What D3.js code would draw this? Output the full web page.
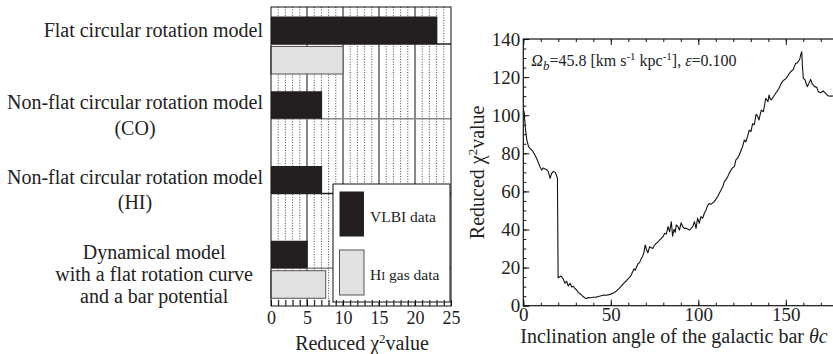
<!DOCTYPE html>
<html>
<head>
<meta charset="utf-8">
<script src="https://cdn.jsdelivr.net/npm/d3@7"></script>
<style>
  body { margin: 0; background: #fff; }
  svg { display: block; }
  svg text { font-family: "Liberation Serif", "Times New Roman", serif; }
</style>
</head>
<body>
<div id="root"></div>
<script>
// left panel: reduced chi2 per model
var models = ["flat", "nonflatCO", "nonflatHI", "dynamical"];
var modelLabels = [
  ["Flat circular rotation model"],
  ["Non-flat circular rotation model", "(CO)"],
  ["Non-flat circular rotation model", "(HI)"],
  ["Dynamical model", "with a flat rotation curve", "and a bar potential"]
];
var vlbiValues = [23.1, 7.1, 7.1, 5.1];
var hiGasValues = [10.0, null, null, 7.6];
var barTicks = [0, 5, 10, 15, 20, 25];

// right panel: chi2 vs inclination angle
var theta = [0, 0.5, 1.2, 2, 3, 4, 5.5, 7, 8, 9.5, 10.5, 11.5, 12.4, 13.3, 14.3, 15.3, 16.2, 17.1, 18.2, 18.9,
  19.5, 19.9, 20.7, 21.6, 22.7, 23.8, 24.8, 25.7, 26.7, 27.7, 28.6, 29.5, 30.4, 31.4, 32.4, 33.4, 34.4, 35.3, 36.2, 37.1,
  38.5, 40, 41.5, 43, 44.5, 46, 47.5, 49, 50.3, 51.7, 53.1, 54.5, 56, 57.5, 58.9, 60, 60.8, 61.7, 62.5, 63.3,
  64, 64.6, 65.5, 66.4, 67.4, 68.2, 68.9, 69.7, 70.4, 71.2, 72.2, 73.1, 74.1, 75, 76, 77, 77.9, 78.8, 79.8, 80.8,
  81.7, 82.7, 83.6, 84.6, 85.3, 86.1, 86.8, 87.4, 88.4, 89.2, 90.2, 91.1, 92, 93, 94, 94.9, 95.8, 96.8, 97.8, 98.7,
  99.6, 100.6, 101.5, 102.5, 103.4, 104.4, 105.3, 106.3, 107.2, 108.2, 109.1, 110, 111, 112, 113, 114, 114.9, 115.8, 116.8, 117.7,
  118.7, 119.6, 120.6, 121.5, 122.5, 123.4, 124.4, 125.3, 126.3, 127.2, 128.2, 129.1, 130.1, 131, 132, 133, 133.8, 134.7, 135.4, 136,
  137.2, 138, 138.5, 139.8, 140.4, 141.1, 141.7, 142.9, 144.2, 145.2, 146.1, 147.4, 148.2, 149, 150, 150.9, 151.9, 152.8, 154.3, 155.6,
  156.4, 157.1, 158, 158.5, 159.1, 159.5, 160, 161, 161.7, 162.3, 163.2, 164.2, 165.1, 166.5, 167.7, 168.6, 169.3, 169.9, 171.3, 172.8,
  174.1, 175.5, 177, 178];
var chi2 = [103, 101.5, 93, 87, 83.5, 82.5, 81, 78.5, 76.5, 73, 71.2, 72.3, 71.8, 71.5, 70.4, 66.8, 69.5, 70.4, 70, 68.5,
  67, 14.6, 15.2, 15.6, 14.2, 11.8, 12.8, 10.3, 11.8, 9.8, 10.2, 9, 8.4, 7.0, 6.3, 5.4, 4.7, 4.0, 3.7, 4.3,
  4.2, 4.4, 4.5, 4.8, 5.2, 5.6, 5.5, 5.8, 6.2, 6.8, 7.6, 8.8, 10.3, 11.8, 13.1, 14.2, 14.9, 16.2, 17.8, 19.4,
  18.6, 20.1, 22.0, 22.6, 24.7, 26, 27.8, 31.9, 29.5, 27.8, 31, 30.4, 30.1, 31.8, 32.8, 33.5, 34.5, 35.2, 36.2, 38,
  37.6, 41.5, 38.8, 44.1, 36.5, 40.1, 38.5, 42.4, 41.5, 39.7, 43.5, 41.5, 40.6, 40.6, 40.2, 39.7, 40.5, 41.5, 44.1, 40.6,
  45.9, 43.3, 46.7, 45.9, 48.4, 50.2, 52.5, 53.7, 53.2, 54, 54.6, 55.8, 57.2, 59, 60.7, 62.5, 65.1, 66.2, 67.7, 69.6,
  71.2, 72.4, 73, 76.5, 77.6, 79.1, 81.5, 83.5, 87, 86, 89, 92.2, 91.4, 95.5, 95, 100.5, 99.6, 97.5, 100.5, 102.7,
  101.8, 106, 108.9, 107.1, 110.6, 108.5, 108, 109.7, 111.5, 112.8, 114.1, 116.7, 117.8, 118.5, 119.2, 120.2, 121.8, 122.8, 124.1, 127.2,
  127.4, 128.1, 129.5, 131.6, 133.3, 126, 119.4, 118.5, 116.5, 115, 116.7, 118.8, 116.4, 115, 114.6, 112.3, 112, 111.8, 112.7, 111.5,
  110.2, 110, 110.1, 109.8];
var yTicks = [0, 20, 40, 60, 80, 100, 120, 140];
var xTicks = [0, 50, 100, 150];

var width = 833;
var height = 354;
var serif = '"Liberation Serif", "Times New Roman", serif';

var svg = d3
  .select("#root")
  .append("svg")
  .attr("width", width)
  .attr("height", height)
  .attr("font-family", serif);

// ---------- left panel ----------
var bx = d3.scaleLinear().domain([0, 25]).range([271, 451]);
var by = d3.scaleBand().domain(models).range([7, 306]);
var bsub = d3.scaleBand().domain(["VLBI", "HI"]).range([9.5, 67]).paddingInner(0.08);
var top1 = 7, bot1 = 306;

var left = svg.append("g");

// dotted unit grid
left.selectAll(".dot-grid")
  .data(d3.range(1, 25).filter((d) => d % 5 !== 0))
  .enter()
  .append("line")
  .attr("x1", (d) => bx(d))
  .attr("x2", (d) => bx(d))
  .attr("y1", top1)
  .attr("y2", bot1)
  .attr("stroke", "#444")
  .attr("stroke-width", 1)
  .attr("stroke-dasharray", "1,1.6");

left.selectAll(".major-grid")
  .data([5, 10, 15, 20])
  .enter()
  .append("line")
  .attr("x1", (d) => bx(d))
  .attr("x2", (d) => bx(d))
  .attr("y1", top1)
  .attr("y2", bot1)
  .attr("stroke", "#111")
  .attr("stroke-width", 1);

// separators under each VLBI bar
left.selectAll(".sep")
  .data(models)
  .enter()
  .append("line")
  .attr("x1", bx(0))
  .attr("x2", bx(25))
  .attr("y1", (d) => by(d) + bsub("VLBI") + bsub.bandwidth())
  .attr("y2", (d) => by(d) + bsub("VLBI") + bsub.bandwidth())
  .attr("stroke", (d, i) => (i % 2 === 0 ? "#222" : "#888"))
  .attr("stroke-width", 1.5);

left.selectAll(".bar-vlbi")
  .data(models)
  .enter()
  .append("rect")
  .attr("x", bx(0))
  .attr("y", (d) => by(d) + bsub("VLBI"))
  .attr("width", (d, i) => bx(vlbiValues[i]) - bx(0))
  .attr("height", bsub.bandwidth())
  .attr("fill", "#231f20");

left.selectAll(".bar-hi")
  .data(models.filter((d, i) => hiGasValues[i] != null))
  .enter()
  .append("rect")
  .attr("x", bx(0))
  .attr("y", (d) => by(d) + bsub("HI"))
  .attr("width", (d) => bx(hiGasValues[models.indexOf(d)]) - bx(0))
  .attr("height", bsub.bandwidth())
  .attr("fill", "#e1e1e1")
  .attr("stroke", "#555")
  .attr("stroke-width", 1);

// legend
var lg = left.append("g").attr("transform", "translate(333,184)");
lg.append("rect").attr("width", 117).attr("height", 118).attr("fill", "#fff").attr("stroke", "#111");
lg.append("rect").attr("x", 6.5).attr("y", 7.5).attr("width", 24.5).attr("height", 45).attr("fill", "#231f20");
lg.append("rect").attr("x", 6.5).attr("y", 66).attr("width", 24.5).attr("height", 45)
  .attr("fill", "#e1e1e1").attr("stroke", "#555");
lg.append("text").attr("x", 37).attr("y", 33).attr("dy", "0.35em").attr("font-size", 15.5).attr("fill", "#222").text("VLBI data");
var hiText = lg.append("text").attr("x", 37).attr("y", 91).attr("dy", "0.35em").attr("font-size", 15.5).attr("fill", "#222");
hiText.append("tspan").text("H");
hiText.append("tspan").attr("font-size", 12).text("I");
hiText.append("tspan").text(" gas data");

// frame
left.append("rect")
  .attr("x", bx(0)).attr("y", top1)
  .attr("width", bx(25) - bx(0)).attr("height", bot1 - top1)
  .attr("fill", "none").attr("stroke", "#111").attr("stroke-width", 1);

function styleAxis(g, size) {
  g.attr("font-family", serif);
  g.select(".domain").remove();
  g.selectAll("line").attr("stroke", "#111");
  g.selectAll("text").attr("font-size", size).attr("fill", "#222");
}

// x axis
left.append("g")
  .attr("transform", "translate(0," + bot1 + ")")
  .call(d3.axisBottom(bx).tickValues(barTicks).tickSize(0).tickPadding(5))
  .call(styleAxis, 18);
left.append("g")
  .attr("transform", "translate(0," + bot1 + ")")
  .call(d3.axisBottom(bx).tickValues(d3.range(0, 26)).tickSize(-6).tickFormat(""))
  .call(styleAxis, 18);

var bTitle = left.append("text")
  .attr("x", 362).attr("y", 350)
  .attr("text-anchor", "middle").attr("font-size", 20).attr("fill", "#222");
bTitle.append("tspan").text("Reduced ");
bTitle.append("tspan").text("χ");
bTitle.append("tspan").attr("font-size", 13).attr("dy", -7).text("2");
bTitle.append("tspan").attr("dy", 7).text("value");

// model labels
var labelRight = [263, 263, 263, 253];
models.forEach(function (m, i) {
  var lines = modelLabels[i];
  var step = lines.length > 2 ? 22.3 : 25.5;
  var cy = by(m) + bsub("VLBI") + bsub.bandwidth() / 2 - (i === 0 ? 0 : 3);
  var t = left.append("text").attr("font-size", 20).attr("fill", "#222").attr("text-anchor", "middle");
  lines.forEach(function (line, j) {
    t.append("tspan").attr("y", cy + j * step).attr("dy", "0.35em").text(line);
  });
  var maxW = 0;
  t.selectAll("tspan").each(function () {
    maxW = Math.max(maxW, this.getComputedTextLength());
  });
  t.selectAll("tspan").attr("x", labelRight[i] - maxW / 2);
});

// ---------- right panel ----------
var rx = d3.scaleLinear().domain([0, 180]).range([523.3, 838.3]);
var ry = d3.scaleLinear().domain([0, 140]).range([305.7, 39]);

var right = svg.append("g");

right.append("clipPath").attr("id", "plot-clip")
  .append("rect")
  .attr("x", rx(0)).attr("y", ry(140))
  .attr("width", rx(180) - rx(0)).attr("height", ry(0) - ry(140));

var line = d3.line()
  .x((d, i) => rx(theta[i]))
  .y((d) => ry(d));

right.append("path")
  .datum(chi2)
  .attr("clip-path", "url(#plot-clip)")
  .attr("d", line)
  .attr("fill", "none")
  .attr("stroke", "#111")
  .attr("stroke-width", 1.1)
  .attr("stroke-linejoin", "round");

// frame
right.append("rect")
  .attr("x", rx(0)).attr("y", ry(140))
  .attr("width", rx(180) - rx(0)).attr("height", ry(0) - ry(140))
  .attr("fill", "none").attr("stroke", "#111").attr("stroke-width", 1.2);

right.append("g")
  .attr("transform", "translate(" + rx(0) + ",0)")
  .call(d3.axisLeft(ry).tickValues(yTicks).tickSize(-6).tickPadding(3))
  .call(styleAxis, 19);
right.append("g")
  .attr("transform", "translate(" + rx(0) + ",0)")
  .call(d3.axisLeft(ry).tickValues(d3.range(0, 141, 5)).tickSize(-3).tickFormat(""))
  .call(styleAxis, 19);

right.append("g")
  .attr("transform", "translate(0," + ry(0) + ")")
  .call(d3.axisBottom(rx).tickValues(xTicks).tickSize(-6).tickPadding(2))
  .call(styleAxis, 19);
right.append("g")
  .attr("transform", "translate(0," + ry(0) + ")")
  .call(d3.axisBottom(rx).tickValues(d3.range(0, 181, 10)).tickSize(-3).tickFormat(""))
  .call(styleAxis, 19);
right.append("g")
  .attr("transform", "translate(0," + ry(140) + ")")
  .call(d3.axisTop(rx).tickValues(xTicks).tickSize(-6).tickFormat(""))
  .call(styleAxis, 19);
right.append("g")
  .attr("transform", "translate(0," + ry(140) + ")")
  .call(d3.axisTop(rx).tickValues(d3.range(0, 181, 10)).tickSize(-3).tickFormat(""))
  .call(styleAxis, 19);

// annotation
var note = right.append("text").attr("x", rx(0) + 8).attr("y", 66).attr("font-size", 16).attr("fill", "#222");
note.append("tspan").attr("font-style", "italic").text("Ω");
note.append("tspan").attr("font-style", "italic").attr("font-size", 13).attr("dy", 4).text("b");
note.append("tspan").attr("dy", -4).text("=45.8 [km s");
note.append("tspan").attr("font-size", 11).attr("dy", -6).text("-1");
note.append("tspan").attr("dy", 6).text(" kpc");
note.append("tspan").attr("font-size", 11).attr("dy", -6).text("-1");
note.append("tspan").attr("dy", 6).text("], ");
note.append("tspan").attr("font-style", "italic").text("ε");
note.append("tspan").text("=0.100");

// axis titles
var yTitle = right.append("text")
  .attr("transform", "translate(484," + ry(70) + ") rotate(-90)")
  .attr("text-anchor", "middle").attr("font-size", 20).attr("fill", "#222");
yTitle.append("tspan").text("Reduced ");
yTitle.append("tspan").text("χ");
yTitle.append("tspan").attr("font-size", 13).attr("dy", -7).text("2");
yTitle.append("tspan").attr("dy", 7).text("value");

var xTitle = right.append("text")
  .attr("x", 674).attr("y", 343)
  .attr("text-anchor", "middle").attr("font-size", 20).attr("fill", "#222");
xTitle.append("tspan").text("Inclination angle of the galactic bar ");
xTitle.append("tspan").attr("font-style", "italic").text("θc");
</script>
</body>
</html>
